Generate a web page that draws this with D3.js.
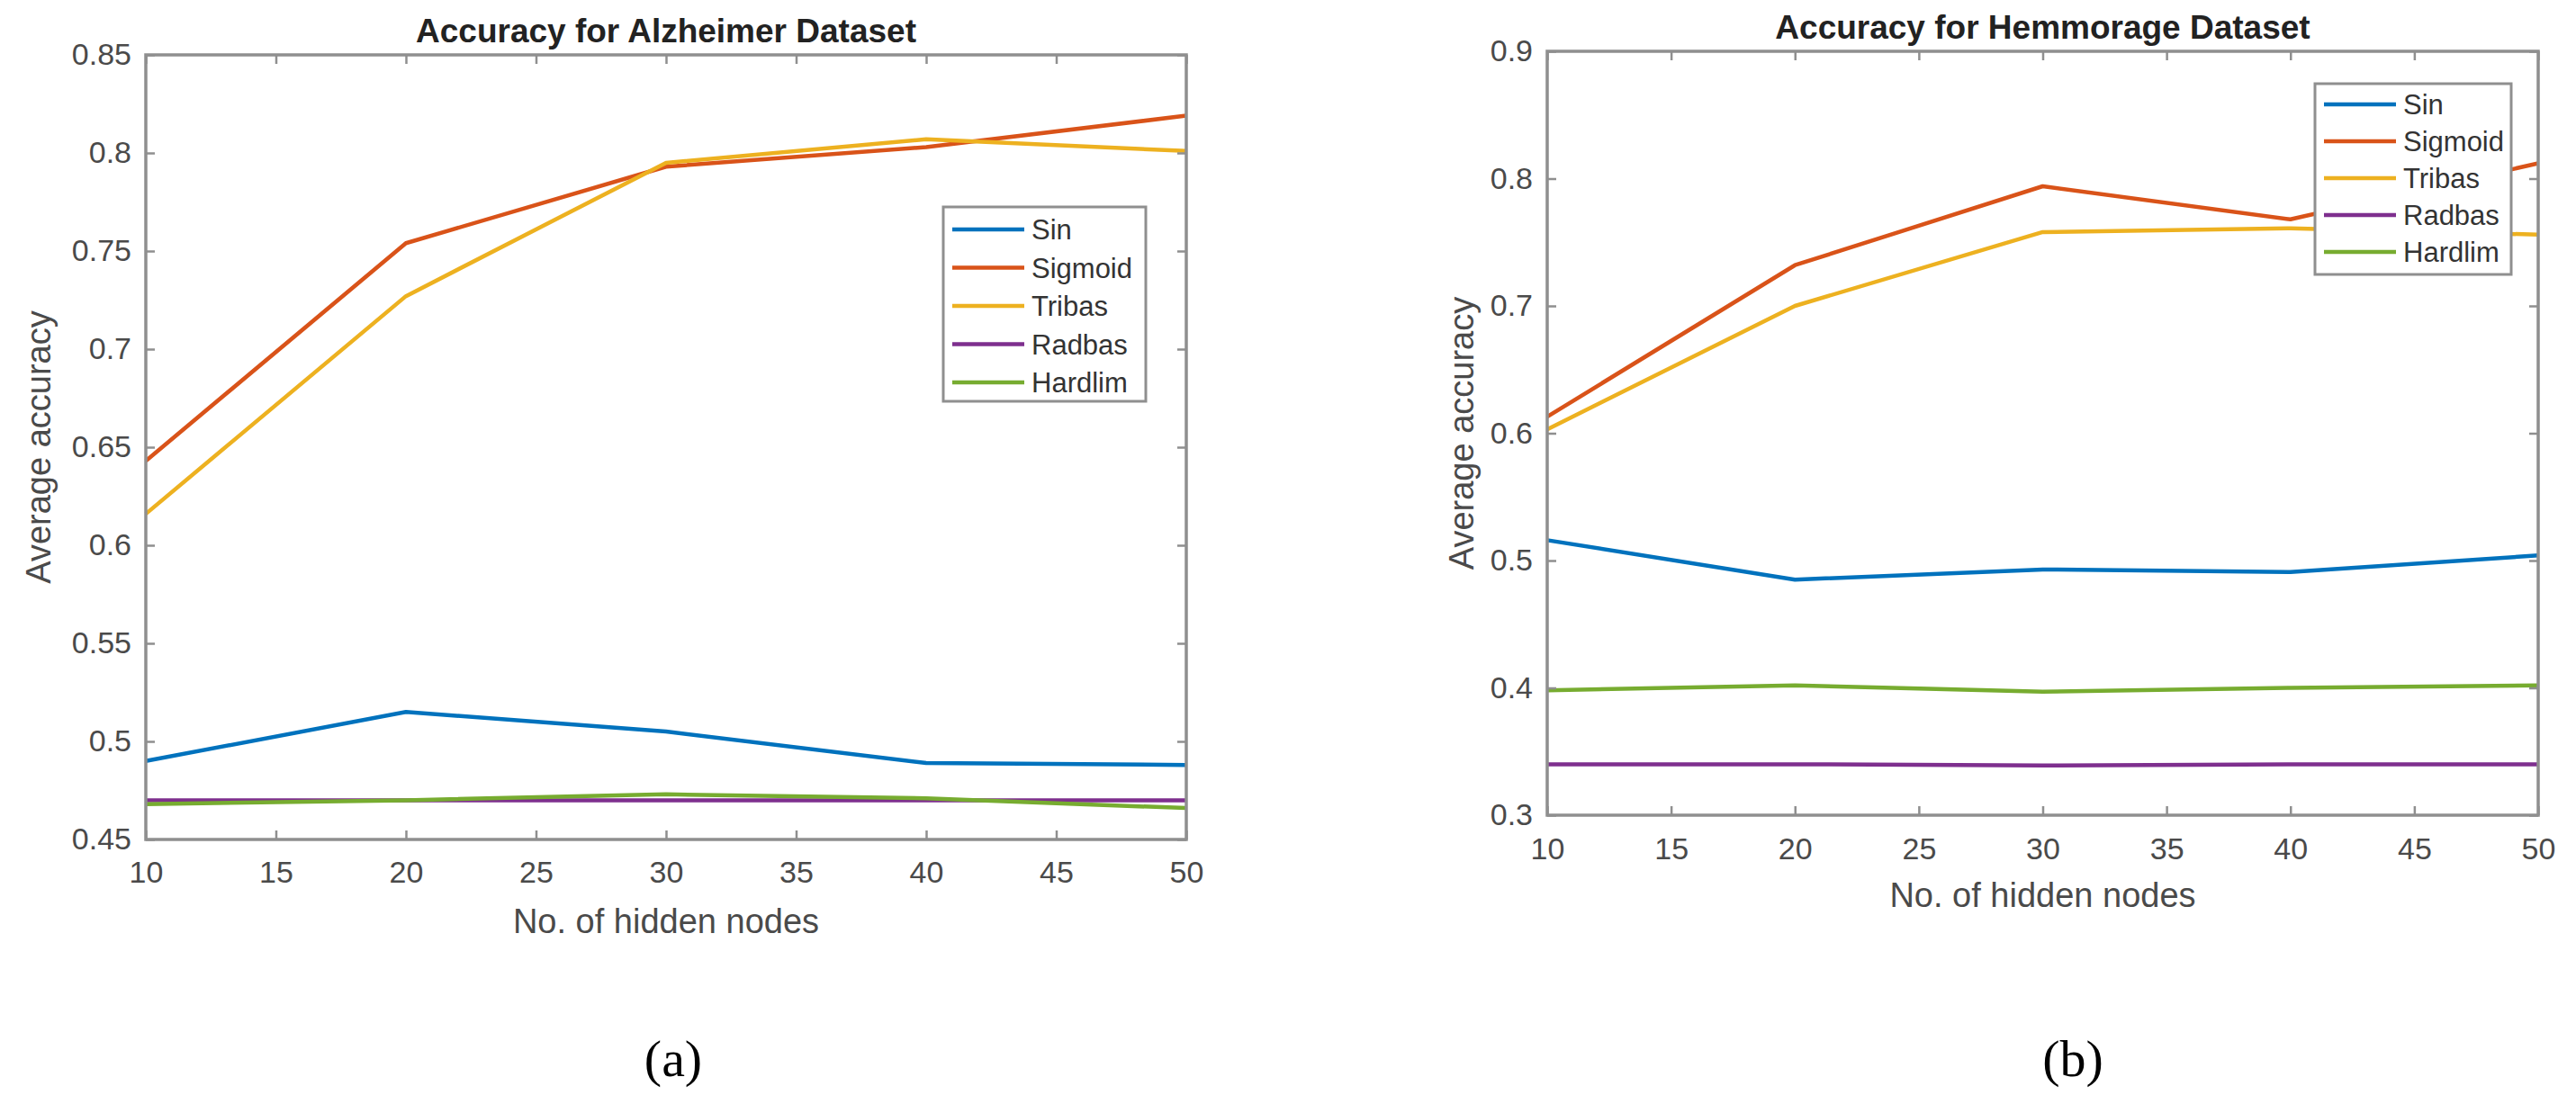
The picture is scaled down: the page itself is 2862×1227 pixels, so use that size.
<!DOCTYPE html>
<html>
<head>
<meta charset="utf-8">
<script src="https://cdn.jsdelivr.net/npm/d3@7"></script>
<style>
  body { margin: 0; background: #fff; }
</style>
</head>
<body>
<div id="chart"></div>
<script>
// x values and tick labels
const hiddenNodes = [10, 20, 30, 40, 50];
const xTicks = [10, 15, 20, 25, 30, 35, 40, 45, 50];
const seriesNames = ['Sin', 'Sigmoid', 'Tribas', 'Radbas', 'Hardlim'];

// Alzheimer dataset (a)
const alzTitle = 'Accuracy for Alzheimer Dataset';
const alzYTicks = [0.45, 0.5, 0.55, 0.6, 0.65, 0.7, 0.75, 0.8, 0.85];
const alzSin = [0.490, 0.515, 0.505, 0.489, 0.488];
const alzSigmoid = [0.643, 0.754, 0.793, 0.803, 0.819];
const alzTribas = [0.616, 0.727, 0.795, 0.807, 0.801];
const alzRadbas = [0.470, 0.470, 0.470, 0.470, 0.470];
const alzHardlim = [0.468, 0.470, 0.473, 0.471, 0.466];

// Hemmorage dataset (b)
const hemTitle = 'Accuracy for Hemmorage Dataset';
const hemYTicks = [0.3, 0.4, 0.5, 0.6, 0.7, 0.8, 0.9];
const hemSin = [0.516, 0.485, 0.493, 0.491, 0.504];
const hemSigmoid = [0.613, 0.732, 0.794, 0.768, 0.812];
const hemTribas = [0.603, 0.700, 0.758, 0.761, 0.756];
const hemRadbas = [0.340, 0.340, 0.339, 0.340, 0.340];
const hemHardlim = [0.398, 0.402, 0.397, 0.400, 0.402];

// MATLAB default line colours
const colors = ['#0072BD', '#D95319', '#EDB120', '#7E2F8E', '#77AC30'];

const width = 2862, height = 1227;
const axisColor = '#8f8f8f';
const textColor = '#4a4a4a';
const font = 'Liberation Sans, Arial, sans-serif';

const svg = d3.select('#chart').append('svg')
    .attr('width', width)
    .attr('height', height);

function drawPanel(p) {
    const x = d3.scaleLinear().domain([10, 50]).range([p.left, p.right]);
    const y = d3.scaleLinear().domain([p.yTicks[0], p.yTicks[p.yTicks.length - 1]]).range([p.bottom, p.top]);
    const g = svg.append('g');

    // series lines
    const line = d3.line().x((d, i) => x(hiddenNodes[i])).y(d => y(d));
    p.series.forEach((s, i) => {
        g.append('path')
            .datum(s)
            .attr('fill', 'none')
            .attr('stroke', colors[i])
            .attr('stroke-width', 4.5)
            .attr('stroke-linejoin', 'round')
            .attr('d', line);
    });

    // axes, ticks pointing inward like matlab
    const fmt = d => String(+d.toFixed(2));
    const bottom = g.append('g')
        .attr('transform', `translate(0,${p.bottom})`)
        .call(d3.axisBottom(x).tickValues(xTicks).tickSize(-10).tickSizeOuter(0).tickPadding(p.xPad));
    const left = g.append('g')
        .attr('transform', `translate(${p.left},0)`)
        .call(d3.axisLeft(y).tickValues(p.yTicks).tickFormat(fmt).tickSize(-10).tickSizeOuter(0).tickPadding(16));
    const top = g.append('g')
        .attr('transform', `translate(0,${p.top})`)
        .call(d3.axisTop(x).tickValues(xTicks).tickFormat('').tickSize(-10).tickSizeOuter(0));
    const right = g.append('g')
        .attr('transform', `translate(${p.right},0)`)
        .call(d3.axisRight(y).tickValues(p.yTicks).tickFormat('').tickSize(-10).tickSizeOuter(0));

    [bottom, left, top, right].forEach(a => {
        a.select('.domain').remove();
        a.selectAll('line').attr('stroke', axisColor).attr('stroke-width', 2.5);
        a.selectAll('text')
            .attr('fill', textColor)
            .attr('font-family', font)
            .attr('font-size', '34px');
    });

    g.append('rect')
        .attr('x', p.left)
        .attr('y', p.top)
        .attr('width', p.right - p.left)
        .attr('height', p.bottom - p.top)
        .attr('fill', 'none')
        .attr('stroke', axisColor)
        .attr('stroke-width', 3.5);

    // title
    g.append('text')
        .attr('x', (p.left + p.right) / 2)
        .attr('y', p.titleY)
        .attr('text-anchor', 'middle')
        .attr('font-family', font)
        .attr('font-weight', 'bold')
        .attr('font-size', '37px')
        .attr('fill', '#222')
        .text(p.title);

    // axis labels
    g.append('text')
        .attr('x', (p.left + p.right) / 2)
        .attr('y', p.xLabelY)
        .attr('text-anchor', 'middle')
        .attr('font-family', font)
        .attr('font-size', '38px')
        .attr('fill', textColor)
        .text('No. of hidden nodes');

    g.append('text')
        .attr('transform', `translate(${p.yLabelX},${(p.top + p.bottom) / 2}) rotate(-90)`)
        .attr('text-anchor', 'middle')
        .attr('font-family', font)
        .attr('font-size', '38px')
        .attr('fill', textColor)
        .text('Average accuracy');

    // legend box
    const lg = g.append('g').attr('transform', `translate(${p.legend.x},${p.legend.y})`);
    lg.append('rect')
        .attr('width', p.legend.w)
        .attr('height', p.legend.h)
        .attr('fill', '#fff')
        .attr('stroke', axisColor)
        .attr('stroke-width', 3);
    seriesNames.forEach((name, i) => {
        const yy = p.legend.first + i * p.legend.step;
        lg.append('line')
            .attr('x1', 10).attr('x2', 90)
            .attr('y1', yy).attr('y2', yy)
            .attr('stroke', colors[i])
            .attr('stroke-width', 4.5);
        lg.append('text')
            .attr('x', 98)
            .attr('y', yy)
            .attr('dy', '0.36em')
            .attr('font-family', font)
            .attr('font-size', '31px')
            .attr('fill', '#333')
            .text(name);
    });

    // panel caption
    svg.append('text')
        .attr('x', p.captionX)
        .attr('y', 1196)
        .attr('text-anchor', 'middle')
        .attr('font-family', 'Liberation Serif, Times New Roman, serif')
        .attr('font-size', '58px')
        .attr('fill', '#000')
        .text(p.caption);
}

drawPanel({
    left: 162, right: 1318, top: 61, bottom: 933,
    yTicks: alzYTicks,
    series: [alzSin, alzSigmoid, alzTribas, alzRadbas, alzHardlim],
    title: alzTitle, titleY: 47,
    xPad: 24, xLabelY: 1037, yLabelX: 56,
    legend: { x: 1048, y: 230, w: 225, h: 216, first: 25, step: 42.5 },
    caption: '(a)', captionX: 748
});

drawPanel({
    left: 1719, right: 2820, top: 57, bottom: 906,
    yTicks: hemYTicks,
    series: [hemSin, hemSigmoid, hemTribas, hemRadbas, hemHardlim],
    title: hemTitle, titleY: 43,
    xPad: 25, xLabelY: 1008, yLabelX: 1637,
    legend: { x: 2572, y: 93, w: 218, h: 212, first: 23, step: 41 },
    caption: '(b)', captionX: 2303
});
</script>
</body>
</html>
